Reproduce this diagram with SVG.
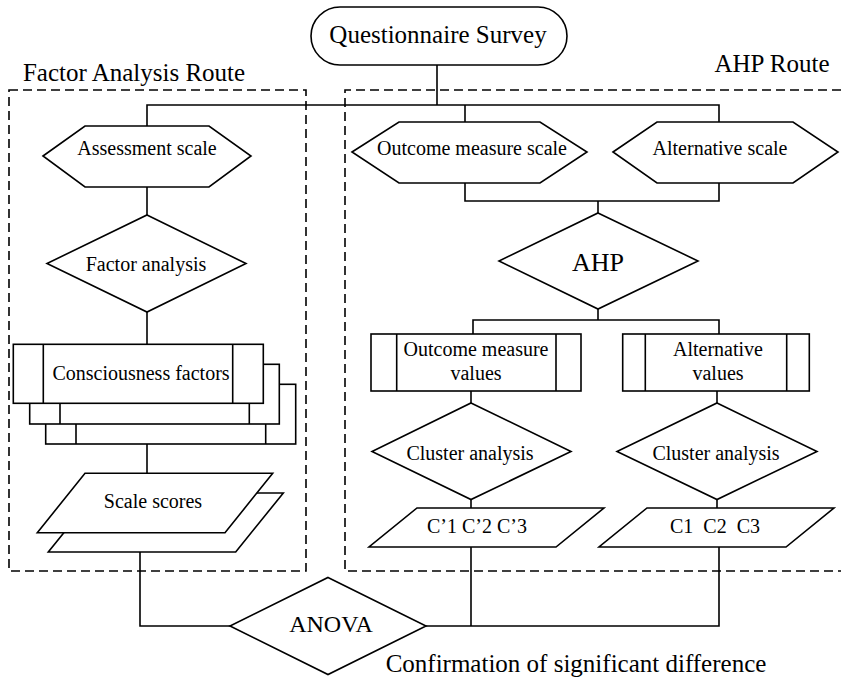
<svg xmlns="http://www.w3.org/2000/svg" width="841" height="679" viewBox="0 0 841 679" font-family="'Liberation Serif', Tinos, 'Times New Roman', 'DejaVu Serif', serif">
  <style>
    .shape { fill: #fff; stroke: #000; stroke-width: 1.6; stroke-linejoin: miter; }
    .wire { fill: none; stroke: #000; stroke-width: 1.6; }
    .route { fill: none; stroke: #000; stroke-width: 1.6; stroke-dasharray: 9 5; }
    text { font-family: 'Liberation Serif', Tinos, 'Times New Roman', 'DejaVu Serif', serif; fill: #000; text-anchor: middle; }
    .t20 { font-size: 20px; }
    .t25 { font-size: 25px; }
    .pre { white-space: pre; }
  </style>
  <rect width="841" height="679" fill="#fff"/>

  <!-- route frames -->
  <g id="routes">
    <rect class="route" x="9" y="90" width="297" height="481"/>
    <path class="route" d="M841,90 H345 V571 H841"/>
    <text class="t25" x="134" y="81">Factor Analysis Route</text>
    <text class="t25" x="772" y="72">AHP Route</text>
  </g>

  <!-- connectors -->
  <g id="connectors">
    <path class="wire" d="M437,65 V105"/>
    <path class="wire" d="M147,126 V105 H719 V122"/>
    <path class="wire" d="M465,105 V122"/>
    <path class="wire" d="M147,187 V215"/>
    <path class="wire" d="M147,312 V344"/>
    <path class="wire" d="M147,444 V473"/>
    <path class="wire" d="M465,183 V201 H719 V183"/>
    <path class="wire" d="M598,201 V213"/>
    <path class="wire" d="M598,309 V320"/>
    <path class="wire" d="M473,334 V320 H719 V334"/>
    <path class="wire" d="M471,391 V403"/>
    <path class="wire" d="M717,391 V403"/>
    <path class="wire" d="M471,499 V508"/>
    <path class="wire" d="M717,499 V508"/>
    <path class="wire" d="M140,552 V626 H230"/>
    <path class="wire" d="M426,626 H719 V547"/>
    <path class="wire" d="M471,547 V626"/>
  </g>

  <g id="questionnaire-survey">
    <rect class="shape" x="311" y="7" width="256" height="58" rx="29" ry="29"/>
    <text class="t25" x="438" y="43">Questionnaire Survey</text>
  </g>

  <g id="assessment-scale">
    <polygon class="shape" points="43,156 85,126 209,126 251,156 209,187 85,187"/>
    <text class="t20" x="147" y="155">Assessment scale</text>
  </g>

  <g id="outcome-measure-scale">
    <polygon class="shape" points="352,152 399,122 540,122 587,152 540,183 399,183"/>
    <text class="t20" x="472" y="155">Outcome measure scale</text>
  </g>

  <g id="alternative-scale">
    <polygon class="shape" points="613,152 657,122 793,122 838,152 793,183 657,183"/>
    <text class="t20" x="720" y="155">Alternative scale</text>
  </g>

  <g id="factor-analysis">
    <polygon class="shape" points="147,215 246,263.5 147,312 47,263.5"/>
    <text class="t20" x="146" y="271">Factor analysis</text>
  </g>

  <g id="consciousness-factors">
    <rect class="shape" x="45.7" y="384.3" width="250" height="59.7"/>
    <path class="wire" d="M76,384.3 V444 M265.7,384.3 V444"/>
    <rect class="shape" x="29.7" y="364.3" width="249.6" height="59.7"/>
    <path class="wire" d="M60,364.3 V424 M249.3,364.3 V424"/>
    <rect class="shape" x="13.3" y="344.3" width="250" height="59"/>
    <path class="wire" d="M43.3,344.3 V403.3 M232.7,344.3 V403.3"/>
    <text class="t20" x="141" y="380">Consciousness factors</text>
  </g>

  <g id="scale-scores">
    <polygon class="shape" points="96,493 283.3,493 235.7,552 48.3,552"/>
    <polygon class="shape" points="85,473.3 272.7,473.3 225,532.7 37.3,532.7"/>
    <text class="t20" x="153" y="508">Scale scores</text>
  </g>

  <g id="ahp">
    <polygon class="shape" points="598,213 698,261 598,309 499,261"/>
    <text x="598" y="271" style="font-size:26px">AHP</text>
  </g>

  <g id="outcome-measure-values">
    <rect class="shape" x="371" y="334" width="210" height="57"/>
    <path class="wire" d="M396.7,334 V391 M556,334 V391"/>
    <text class="t20" x="476" y="356">Outcome measure</text>
    <text class="t20" x="476" y="380">values</text>
  </g>

  <g id="alternative-values">
    <rect class="shape" x="622.7" y="334" width="186.6" height="57"/>
    <path class="wire" d="M645.3,334 V391 M786.7,334 V391"/>
    <text class="t20" x="718" y="356">Alternative</text>
    <text class="t20" x="718" y="380">values</text>
  </g>

  <g id="cluster-analysis-outcome">
    <polygon class="shape" points="471,403 571,451.5 471,499.5 372,451.5"/>
    <text class="t20" x="470" y="460">Cluster analysis</text>
  </g>

  <g id="cluster-analysis-alternative">
    <polygon class="shape" points="717,403 817,451.5 717,499.5 617,451.5"/>
    <text class="t20" x="716" y="460">Cluster analysis</text>
  </g>

  <g id="outcome-clusters">
    <polygon class="shape" points="417,508 604,508 556,547 369,547"/>
    <text class="t20 pre" x="477" y="533">C’1 C’2 C’3</text>
  </g>

  <g id="alternative-clusters">
    <polygon class="shape" points="647,508 834,508 786,547 599,547"/>
    <text class="t20 pre" x="715" y="533">C1  C2  C3</text>
  </g>

  <g id="anova">
    <polygon class="shape" points="328,577.5 426,626 328,674.5 230,626"/>
    <text x="331" y="632" style="font-size:24px">ANOVA</text>
    <text class="t25" x="576" y="672">Confirmation of significant difference</text>
  </g>
</svg>
